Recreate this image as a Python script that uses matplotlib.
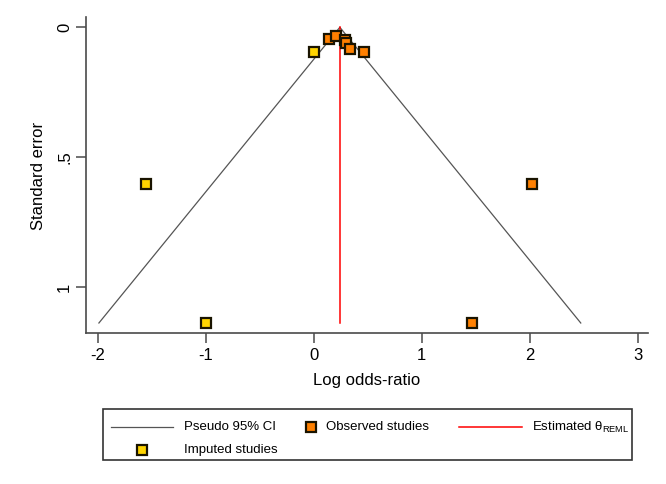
import numpy as np
import matplotlib
matplotlib.use("Agg")
from matplotlib import pyplot as plt
from matplotlib.patches import Rectangle

plt.rcParams['font.family'] = ['Liberation Sans', 'DejaVu Sans']
plt.rcParams['mathtext.fontset'] = 'custom'
plt.rcParams['mathtext.rm'] = 'Liberation Sans'
plt.rcParams['mathtext.it'] = 'Liberation Sans'

# studies (log odds-ratio, standard error)
obs_lor = [0.14, 0.205, 0.29, 0.30, 0.335, 0.465, 2.02, 1.47]
obs_se = [0.045, 0.032, 0.049, 0.060, 0.083, 0.094, 0.603, 1.138]
imp_lor = [0.0, -1.55, -1.0]
imp_se = [0.094, 0.603, 1.138]
theta = 0.242  # estimated theta (REML)

x_ticks = [-2, -1, 0, 1, 2, 3]
y_ticks = [0, 0.5, 1]
y_tick_labels = ['0', '.5', '1']

W, H = 666, 484
fig = plt.figure(figsize=(W / 100, H / 100), dpi=100)
fig.patch.set_facecolor('white')

# plot area in pixels: x 86..648, y 17..333
ax = fig.add_axes([86 / W, 1 - 333 / H, (648 - 86) / W, (333 - 17) / H])

axis_col = '#4a4a4a'
orange = '#ff8000'
yellow = '#ffd400'
edge = '#1a1400'

# pseudo 95% CI funnel
se_max = max(obs_se + imp_se)
ax.plot([theta - 1.96 * se_max, theta, theta + 1.96 * se_max], [se_max, 0, se_max],
        color='#555555', lw=0.9, zorder=1)
ax.plot([theta, theta], [0, se_max], color='#ff0000', lw=1.1, zorder=2)

ax.plot(obs_lor, obs_se, 's', ms=7, mfc=orange, mec=edge, mew=1.6, ls='none', zorder=3)
ax.plot(imp_lor, imp_se, 's', ms=7, mfc=yellow, mec=edge, mew=1.6, ls='none', zorder=3)

ax.set_xlim(-2.108, 3.095)
ax.set_ylim(1.1765, -0.0396)

ax.set_xticks(x_ticks)
ax.set_xticklabels([str(t) for t in x_ticks])
ax.set_yticks(y_ticks)
ax.set_yticklabels(y_tick_labels, rotation=90, va='center')

for s in ['top', 'right']:
    ax.spines[s].set_visible(False)
for s in ['left', 'bottom']:
    ax.spines[s].set_color(axis_col)
    ax.spines[s].set_linewidth(1.2)

ax.tick_params(axis='both', colors=axis_col, length=7, width=1.1, labelsize=12,
               labelcolor='black')
ax.tick_params(axis='x', pad=4)
ax.tick_params(axis='y', pad=3)

ax.set_xlabel('Log odds-ratio', fontsize=12, va='center')
ax.xaxis.set_label_coords(0.5, (333 - 381) / 316)
ax.set_ylabel('Standard error', fontsize=12, va='center')
ax.yaxis.set_label_coords((38.5 - 86) / 562, (333 - 176) / 316)

# legend drawn in pixel coords, Stata style
lg = fig.add_axes([0, 0, 1, 1])
lg.set_xlim(0, W)
lg.set_ylim(H, 0)
lg.axis('off')
lg.add_patch(Rectangle((103.3, 409.3), 632.3 - 103.3, 460.3 - 409.3,
                       fill=False, edgecolor='#333333', lw=1.2))
r1, r2 = 427, 450.3
fs = 9.5
lg.plot([110.5, 173.3], [r1, r1], color='#555555', lw=0.9)
lg.text(184, r1, 'Pseudo 95% CI', fontsize=fs, va='center')
lg.plot([310.7], [r1], 's', ms=7, mfc=orange, mec=edge, mew=1.6)
lg.text(326, r1, 'Observed studies', fontsize=fs, va='center')
lg.plot([459, 521.5], [r1, r1], color='#ff0000', lw=1.1)
lg.text(532, r1, r'Estimated θ$_{\mathregular{REML}}$', fontsize=fs, va='center')
lg.plot([142], [r2], 's', ms=7, mfc=yellow, mec=edge, mew=1.6)
lg.text(184, r2, 'Imputed studies', fontsize=fs, va='center')

fig.savefig('out.png', dpi=100, facecolor='white')
